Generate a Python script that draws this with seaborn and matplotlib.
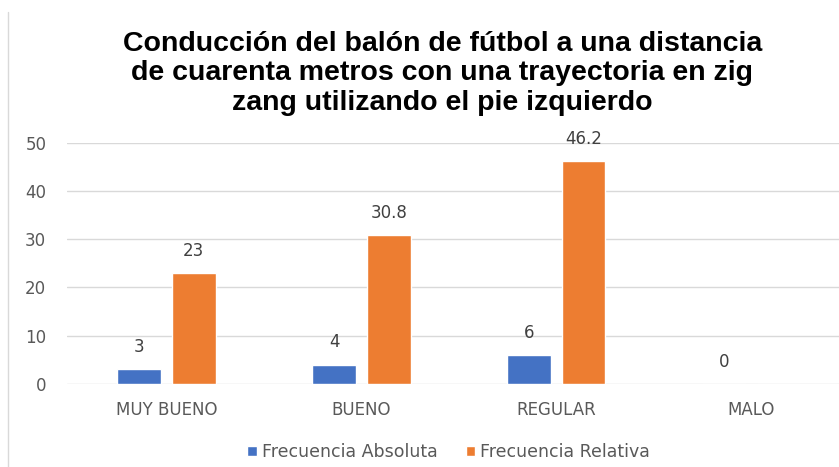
import pandas as pd
import matplotlib.pyplot as plt
import seaborn as sns

# Datos del grafico
categorias = ["MUY BUENO", "BUENO", "REGULAR", "MALO"]
frec_absoluta = [3, 4, 6, 0]
frec_relativa = [23, 30.8, 46.2, 0]
etiq_absoluta = ["3", "4", "6", "0"]
etiq_relativa = ["23", "30.8", "46.2", ""]
series = ["Frecuencia Absoluta", "Frecuencia Relativa"]
titulo = ("Conducción del balón de fútbol a una distancia\n"
          "de cuarenta metros con una trayectoria en zig\n"
          "zang utilizando el pie izquierdo")

df = pd.DataFrame({
    "categoria": categorias * 2,
    "serie": [series[0]] * 4 + [series[1]] * 4,
    "valor": frec_absoluta + frec_relativa,
})

sns.set_style("white")
plt.rcParams['font.family'] = ['DejaVu Sans']
gris = "#595959"

fig = plt.figure(figsize=(8.39, 4.67), dpi=100)
ax = fig.add_axes([0.08, 0.178, 0.92, 0.516])

sns.barplot(data=df, x="categoria", y="valor", hue="serie", order=categorias,
            hue_order=series, palette=["#4472C4", "#ED7D31"], saturation=1,
            width=0.56, gap=0.2, ax=ax, legend=True)

ax.set_xlim(-0.51, 3.45)
ax.set_ylim(0, 50)
ax.set_yticks(range(0, 51, 10))
ax.yaxis.grid(True, color="#D9D9D9", linewidth=1)
ax.set_axisbelow(True)
for s in ax.spines.values():
    s.set_visible(False)
ax.tick_params(axis="both", length=0, labelsize=12, labelcolor=gris)
ax.tick_params(axis="y", pad=15)
ax.tick_params(axis="x", pad=12)
ax.set_xlabel("")
ax.set_ylabel("")

# etiquetas de datos
for cont, etiquetas in zip(ax.containers, [etiq_absoluta, etiq_relativa]):
    for barra, txt in zip(cont, etiquetas):
        if txt == "":
            continue
        ax.annotate(txt, (barra.get_x() + barra.get_width() / 2, barra.get_height()),
                    xytext=(0, 16), textcoords="offset points", ha="center",
                    va="center", fontsize=12, color="#404040", annotation_clip=False)

fig.text(0.527, 0.843, titulo, ha="center", va="center", fontsize=20.5,
         fontweight="bold", family=["Liberation Sans", "DejaVu Sans"],
         linespacing=1.17, color="black")

leg = ax.legend(loc="center", bbox_to_anchor=(0.535, 0.032),
                bbox_transform=fig.transFigure, ncol=2, frameon=False,
                fontsize=12.5, handlelength=0.55, handleheight=0.55,
                handletextpad=0.3, columnspacing=1.6)
for t in leg.get_texts():
    t.set_color(gris)

# borde izquierdo del cuadro
fig.add_artist(plt.Line2D([0.009, 0.009], [0.0, 0.975], color="#D9D9D9",
                          linewidth=1, transform=fig.transFigure))

fig.savefig("out.png", dpi=100)
